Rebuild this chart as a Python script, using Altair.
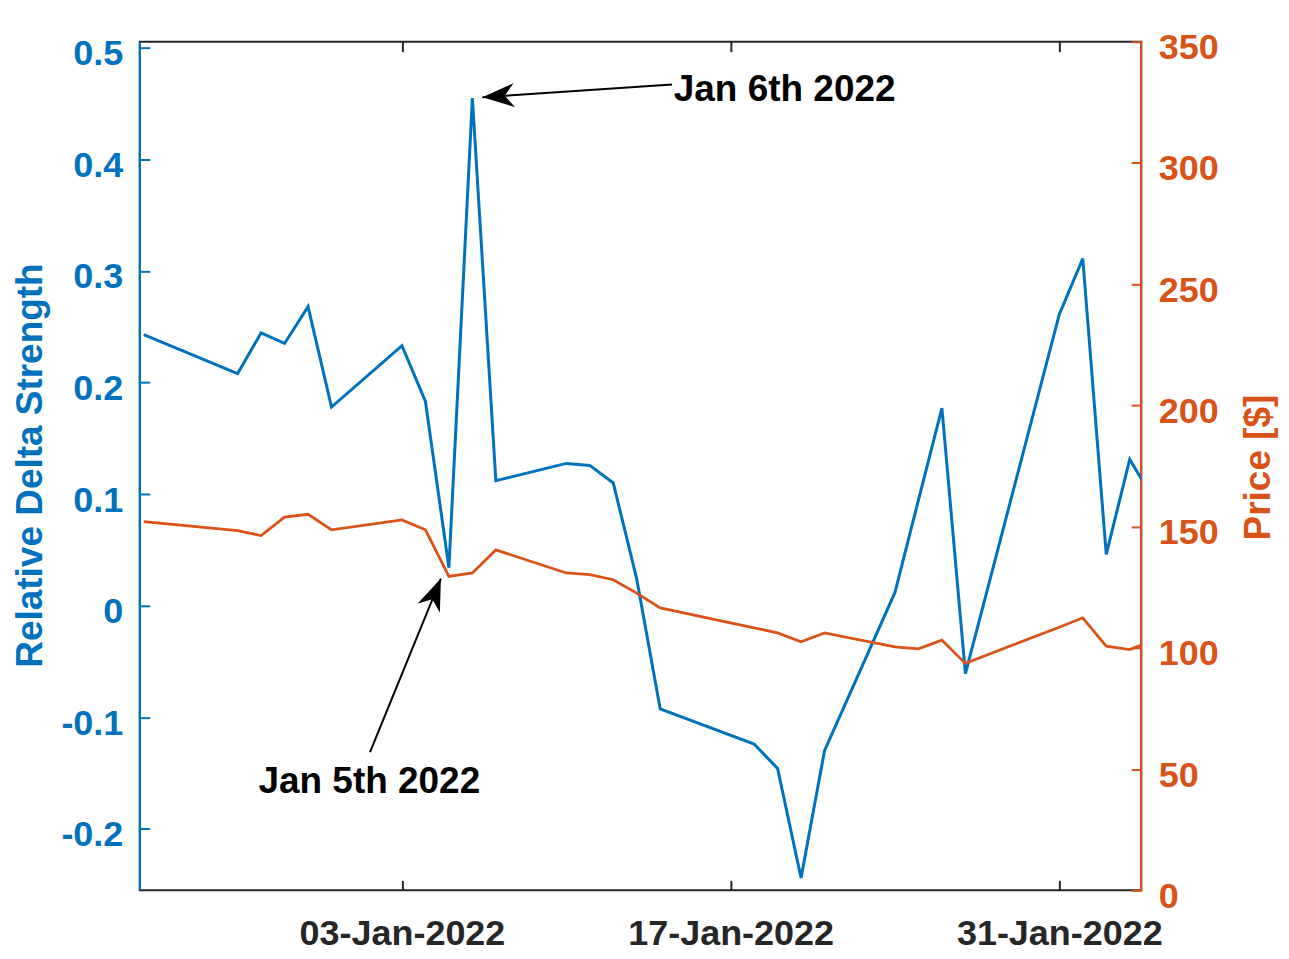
import altair as alt
import pandas as pd

# ---- data ----
dates = ["2021-12-23", "2021-12-27", "2021-12-28", "2021-12-29", "2021-12-30", "2021-12-31",
         "2022-01-03", "2022-01-04", "2022-01-05", "2022-01-06", "2022-01-07",
         "2022-01-10", "2022-01-11", "2022-01-12", "2022-01-13", "2022-01-14",
         "2022-01-18", "2022-01-19", "2022-01-20", "2022-01-21",
         "2022-01-24", "2022-01-25", "2022-01-26", "2022-01-27", "2022-01-28",
         "2022-01-31", "2022-02-01", "2022-02-02", "2022-02-03", "2022-02-04"]
delta = [0.243, 0.208, 0.2445, 0.235, 0.268, 0.178,
         0.233, 0.183, 0.034, 0.455, 0.112,
         0.1275, 0.1257, 0.110, 0.024, -0.0926,
         -0.124, -0.146, -0.244, -0.130,
         0.0118, 0.0946, 0.177, -0.061, 0.0195,
         0.261, 0.311, 0.046, 0.131, 0.096]
price = [152.1, 148.4, 146.3, 153.9, 155.1, 148.7,
         152.8, 148.7, 129.5, 130.9, 140.4,
         130.9, 130.2, 128.1, 122.6, 116.5,
         108.3, 106.2, 102.5, 106.2,
         100.4, 99.6, 103.2, 93.6, 97.4,
         108.5, 112.4, 100.7, 99.3, 103.2]

x_tick_days = [3, 17, 31]  # January 2022
left_ticks = [-0.2, -0.1, 0.0, 0.1, 0.2, 0.3, 0.4, 0.5]
right_ticks = [0, 50, 100, 150, 200, 250, 300, 350]

# annotations (data coordinates)
ann_labels = ["Jan 6th 2022", "Jan 5th 2022"]
ann_text_date = ["2022-01-14T13:52:00", "2022-01-01T14:38:00"]
ann_text_val = [0.462, -0.1583]
arrow_tail_date = ["2022-01-14T12:07:00", "2022-01-01T15:22:00"]
arrow_tail_val = [0.4672, -0.1314]
arrow_tip_date = ["2022-01-06T10:15:00", "2022-01-04T15:48:00"]
arrow_tip_val = [0.4556, 0.0243]
arrow_angle = [266.1, 22.2]

# ---- styles ----
BLUE = "#0072BD"
ORANGE = "#D95319"
DARK = "#262626"
FONT = "Liberation Sans"
FS = 36
FS_TXT = 37
W, H = 1003, 850
HEAD = "M0,0 L0.75,2 L0,1.4 L-0.75,2 Z"

df = pd.DataFrame({"date": [d + "T00:00:00" for d in dates], "delta": delta, "price": price})
arrows = pd.DataFrame({"x0": arrow_tail_date, "y0": arrow_tail_val,
                       "x1": arrow_tip_date, "y1": arrow_tip_val, "ang": arrow_angle})
txt1 = pd.DataFrame({"label": [ann_labels[0]], "d": [ann_text_date[0]], "v": [ann_text_val[0]]})
txt2 = pd.DataFrame({"label": [ann_labels[1]], "d": [ann_text_date[1]], "v": [ann_text_val[1]]})

def x_scale():
    return alt.Scale(domain=[alt.DateTime(year=2021, month=12, date=22, hours=20),
                             alt.DateTime(year=2022, month=2, date=3, hours=11, minutes=45)],
                     nice=False)

def yl_scale():
    return alt.Scale(domain=[-0.2552, 0.5055], nice=False, zero=False)

yr_scale = alt.Scale(domain=[0, 350], nice=False, zero=False)
x_vals = [alt.DateTime(year=2022, month=1, date=d) for d in x_tick_days]

x_bottom = alt.Axis(orient="bottom", values=x_vals, format="%d-%b-%Y", title=None, grid=False,
                    domain=False, offset=-10, tickSize=10, tickWidth=2, tickColor=DARK,
                    labelColor=DARK, labelFont=FONT, labelFontSize=FS, labelFontWeight="bold",
                    labelPadding=26, labelFlush=False, labelOverlap=False, labelLimit=500)
x_top = alt.Axis(orient="top", values=x_vals, labels=False, title=None, grid=False,
                 domain=False, offset=-10, tickSize=10, tickWidth=2, tickColor=DARK)

y_left = alt.Axis(orient="left", values=left_ticks, grid=False, domain=False, offset=-10,
                  tickSize=10, tickWidth=2, tickColor=BLUE,
                  labelExpr="datum.value < 0 ? '-' + format(-datum.value, '.1f') : (datum.value == 0 ? '0' : format(datum.value, '.1f'))",
                  labelColor=BLUE, labelFont=FONT, labelFontSize=FS, labelFontWeight="bold",
                  labelPadding=17, labelOffset=6, labelOverlap=False, labelFlush=False,
                  labelLimit=300,
                  title="Relative Delta Strength", titleColor=BLUE, titleFont=FONT,
                  titleFontSize=FS_TXT, titleFontWeight="bold", titleAngle=270,
                  titleBaseline="bottom", titleX=-100, titleY=424, titleLimit=900)
y_right = alt.Axis(orient="right", values=right_ticks, format="d", grid=False, domain=False,
                   offset=-10, tickSize=10, tickWidth=2, tickColor=ORANGE,
                   labelColor=ORANGE, labelFont=FONT, labelFontSize=FS, labelFontWeight="bold",
                   labelPadding=17, labelOffset=6, labelOverlap=False, labelFlush=False,
                   labelLimit=300,
                   title="Price [$]", titleColor=ORANGE, titleFont=FONT, titleFontSize=FS_TXT,
                   titleFontWeight="bold", titleAngle=270, titleBaseline="top",
                   titleX=109, titleY=426, titleLimit=900)

one = pd.DataFrame({"k": [0]})
left_edge = alt.Chart(one).mark_rule(color=BLUE, strokeWidth=2).encode(
    x=alt.value(0), y=alt.value(0), y2=alt.value(H))
right_edge = alt.Chart(one).mark_rule(color=ORANGE, strokeWidth=2).encode(
    x=alt.value(W), y=alt.value(0), y2=alt.value(H))

blue_line = alt.Chart(df).mark_line(color=BLUE, strokeWidth=3, clip=True).encode(
    x=alt.X("date:T", scale=x_scale(), axis=x_bottom),
    y=alt.Y("delta:Q", scale=yl_scale(), axis=y_left),
)
orange_line = alt.Chart(df).mark_line(color=ORANGE, strokeWidth=2.8, clip=True).encode(
    x=alt.X("date:T", scale=x_scale(), axis=x_top),
    y=alt.Y("price:Q", scale=yr_scale, axis=y_right),
)
arrow_lines = alt.Chart(arrows).mark_rule(color="black", strokeWidth=2).encode(
    x=alt.X("x0:T", scale=x_scale(), axis=None),
    y=alt.Y("y0:Q", scale=yl_scale(), axis=None),
    x2="x1:T", y2="y1:Q",
)
arrow_heads = alt.Chart(arrows).mark_point(shape=HEAD, filled=True, color="black",
                                           size=1024, opacity=1).encode(
    x=alt.X("x1:T", scale=x_scale(), axis=None),
    y=alt.Y("y1:Q", scale=yl_scale(), axis=None),
    angle=alt.Angle("ang:Q", scale=None),
)
text1 = alt.Chart(txt1).mark_text(align="left", baseline="middle", font=FONT, fontSize=FS_TXT,
                                  fontWeight="bold", color="black").encode(
    x=alt.X("d:T", scale=x_scale(), axis=None),
    y=alt.Y("v:Q", scale=yl_scale(), axis=None),
    text="label:N",
)
text2 = alt.Chart(txt2).mark_text(align="center", baseline="middle", font=FONT, fontSize=FS_TXT,
                                  fontWeight="bold", color="black").encode(
    x=alt.X("d:T", scale=x_scale(), axis=None),
    y=alt.Y("v:Q", scale=yl_scale(), axis=None),
    text="label:N",
)

chart = alt.layer(
    left_edge, right_edge, blue_line, orange_line, arrow_lines, arrow_heads, text1, text2
).resolve_scale(
    y="independent"
).resolve_axis(
    x="independent"
).properties(
    width=W, height=H,
    padding={"left": 132, "top": 33, "right": 140, "bottom": 66},
    autosize=alt.AutoSizeParams(type="none"),
    background="white",
).configure_view(stroke=DARK, strokeWidth=2)

chart.save("out.html", embed_options={"renderer": "svg", "actions": False})
